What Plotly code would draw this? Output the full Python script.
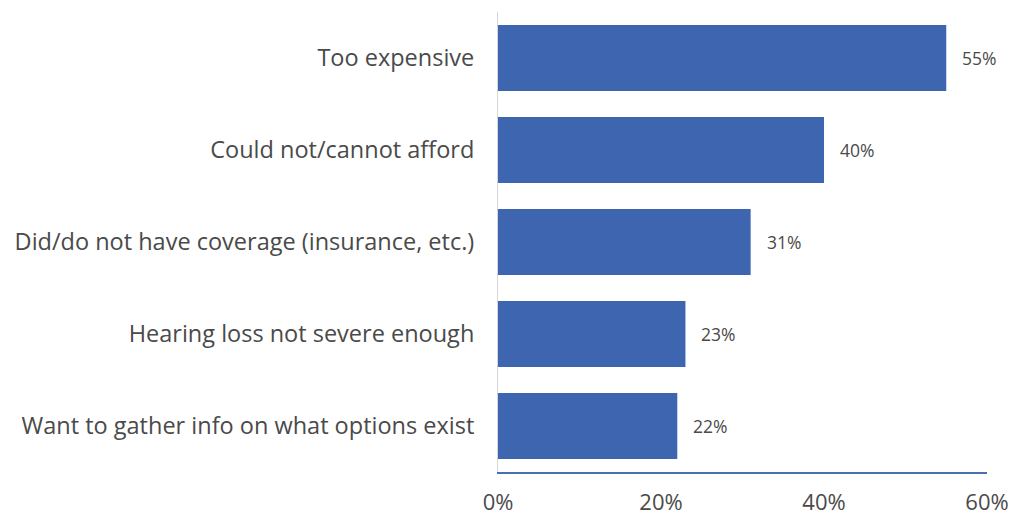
import plotly.graph_objects as go

categories = [
    "Too expensive",
    "Could not/cannot afford",
    "Did/do not have coverage (insurance, etc.)",
    "Hearing loss not severe enough",
    "Want to gather info on what options exist",
]
values = [55, 40, 31, 23, 22]
tick_vals = [0, 20, 40, 60]
tick_text = ["0%", "20%", "40%", "60%"]

BAR = "#3E65B0"
TEXT = "#4A4A4A"
FONT = "'Open Sans', sans-serif"

fig = go.Figure(
    go.Bar(
        x=values,
        y=categories,
        orientation="h",
        marker=dict(color=BAR, line=dict(width=0)),
        hoverinfo="skip",
    )
)

# value labels to the right of each bar
for cat, v in zip(categories, values):
    fig.add_annotation(
        x=v, y=cat, text=f"{v}%", showarrow=False,
        xanchor="left", xshift=14,
        font=dict(family=FONT, size=17.5, color=TEXT),
    )

fig.update_layout(
    width=1016, height=518,
    margin=dict(l=498, r=29, t=12, b=46),
    paper_bgcolor="white", plot_bgcolor="white",
    bargap=0.28,
    showlegend=False,
    font=dict(family=FONT, color=TEXT),
)
fig.update_xaxes(
    range=[0, 60], tickvals=tick_vals, ticktext=tick_text,
    showgrid=False, zeroline=False, automargin=False,
    showline=True, linecolor="#4A6DB3", linewidth=2,
    ticks="", ticklabelstandoff=10,
    tickfont=dict(family=FONT, size=22, color=TEXT),
)
fig.update_yaxes(
    categoryorder="array", categoryarray=categories[::-1],
    showgrid=False, zeroline=False, automargin=False,
    showline=True, linecolor="#D6D6D6", linewidth=1,
    ticks="", ticklabelstandoff=18,
    tickfont=dict(family=FONT, size=23.5, color=TEXT),
)

fig.write_html("out.html")
